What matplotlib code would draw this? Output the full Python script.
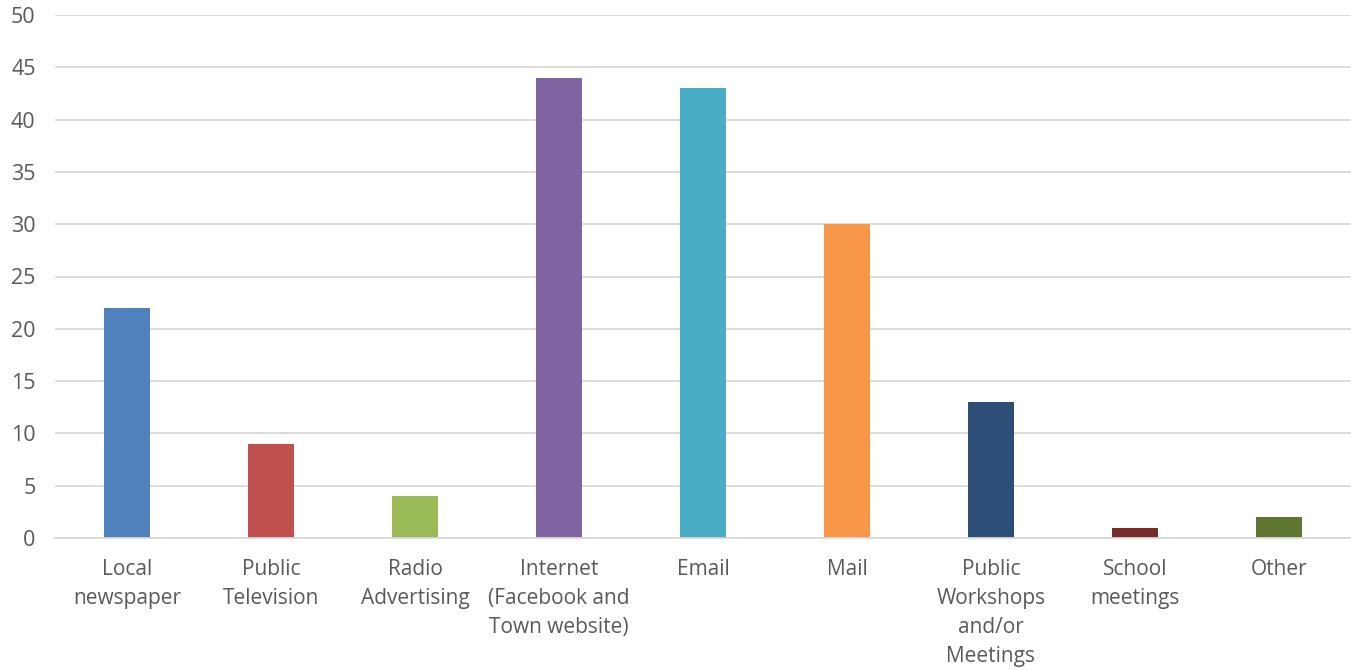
import matplotlib
matplotlib.use("Agg")
import matplotlib.pyplot as plt

categories = [
    "Local\nnewspaper",
    "Public\nTelevision",
    "Radio\nAdvertising",
    "Internet\n(Facebook and\nTown website)",
    "Email",
    "Mail",
    "Public\nWorkshops\nand/or\nMeetings",
    "School\nmeetings",
    "Other",
]
values = [22, 9, 4, 44, 43, 30, 13, 1, 2]
colors = ["#4F81BD", "#C0504D", "#9BBB59", "#8064A2", "#4BACC6",
          "#F79646", "#2C4D75", "#772C2A", "#5F7530"]

plt.rcParams["font.family"] = ["Open Sans", "DejaVu Sans"]
text_color = "#595959"

fig = plt.figure(figsize=(13.51, 6.70), dpi=100)
ax = fig.add_axes([55 / 1351, 132 / 670, 1 - 55 / 1351, (538 - 15) / 670])

x = range(len(categories))
ax.bar(x, values, width=0.32, color=colors, zorder=3)

ax.set_xlim(-0.5, len(categories) - 0.5)
ax.set_ylim(0, 50)
ax.set_yticks(range(0, 51, 5))
ax.set_xticks(list(x))
ax.set_xticklabels(categories, linespacing=1.5)

ax.yaxis.grid(True, color="#D9D9D9", linewidth=1.3, zorder=0)
for side in ("top", "right", "left"):
    ax.spines[side].set_visible(False)
ax.spines["bottom"].set_color("#D9D9D9")
ax.spines["bottom"].set_linewidth(1.3)
ax.spines["bottom"].set_zorder(4)

ax.tick_params(axis="both", length=0, labelsize=15, colors=text_color)
ax.tick_params(axis="x", pad=15)
ax.tick_params(axis="y", pad=14, labelsize=15.5)
for lbl in ax.get_yticklabels():
    lbl.set_horizontalalignment("right")

fig.savefig("out.png", dpi=100, facecolor="white")
